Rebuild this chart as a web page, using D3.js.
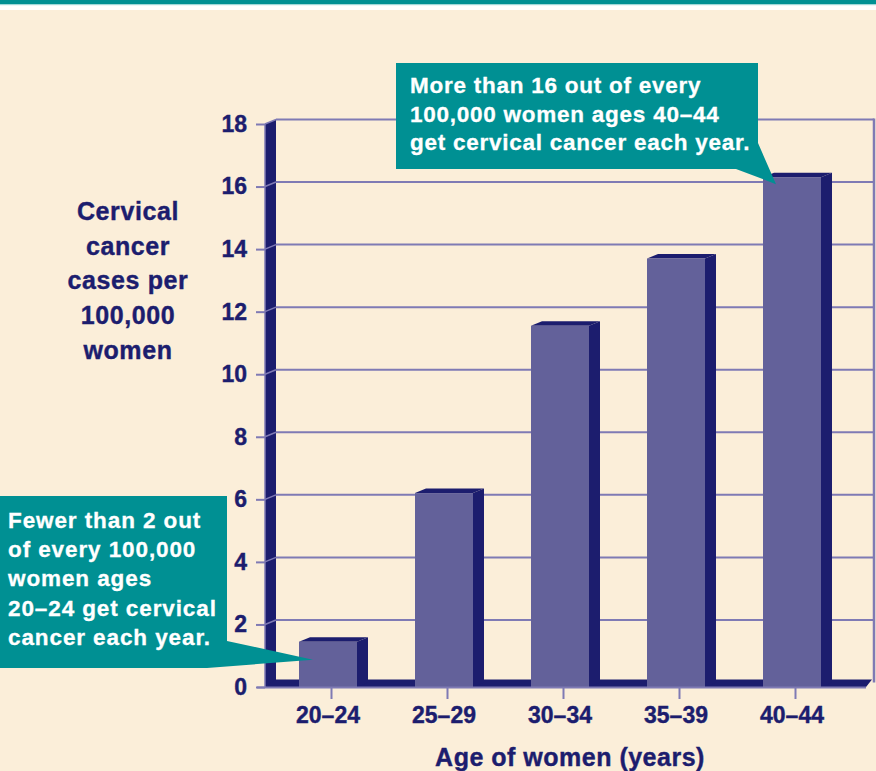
<!DOCTYPE html>
<html>
<head>
<meta charset="utf-8">
<script src="https://d3js.org/d3.v7.min.js"></script>
<style>
  body { margin: 0; background: #fbeed9; }
  svg { display: block; }
  text { font-family: "Liberation Sans", Arial, Helvetica, sans-serif; font-weight: bold; }
</style>
</head>
<body>
<svg class="chart"></svg>
<script>

// data
var ages = ["20–24", "25–29", "30–34", "35–39", "40–44"];
var rates = [1.45, 6.2, 11.55, 13.7, 16.3];
var yTicks = [0, 2, 4, 6, 8, 10, 12, 14, 16, 18];
var yTitle = ["Cervical", "cancer", "cases per", "100,000", "women"];
var xTitle = "Age of women (years)";
var noteHigh = ["More than 16 out of every", "100,000 women ages 40–44", "get cervical cancer each year."];
var noteLow = ["Fewer than 2 out", "of every 100,000", "women ages", "20–24 get cervical", "cancer each year."];

var W = 876, H = 771;
var navy = "#1c1d6e", barFill = "#63619a", grid = "#7f7ab4", teal = "#009093";

// 3d offsets
var dx = 11, dy = 4.5;
var wallLeft = 265, wallRight = 874;

var y = d3.scaleLinear()
    .domain([0, 18])
    .range([687, 124]);

var x = d3.scaleBand()
    .domain(ages)
    .range([270, 850])
    .paddingInner(0.5)
    .paddingOuter(0.25);

var chart = d3.select('.chart')
    .attr('width', W)
    .attr('height', H);

chart.append('rect').attr('width', W).attr('height', H).attr('fill', '#fbeed9');

// top band
chart.append('rect').attr('width', W).attr('height', 10).attr('fill', '#ffffff');
chart.append('rect').attr('width', W).attr('height', 4).attr('fill', teal);
chart.append('rect').attr('y', 4).attr('width', W).attr('height', 1.2).attr('fill', '#9fd8d8');

var base = y(0);

// back wall gridlines
chart.append('g').selectAll('line')
    .data(yTicks.slice(1))
    .enter().append('line')
    .attr('x1', wallLeft + dx).attr('x2', wallRight)
    .attr('y1', function (d) { return y(d) - dy; })
    .attr('y2', function (d) { return y(d) - dy; })
    .attr('stroke', grid).attr('stroke-width', 2);

// right edge of back wall
chart.append('line')
    .attr('x1', wallRight).attr('x2', wallRight)
    .attr('y1', y(18) - dy - 1).attr('y2', base - dy)
    .attr('stroke', grid).attr('stroke-width', 2.5);

// left wall
chart.append('path')
    .attr('d', 'M' + wallLeft + ',' + y(18) + 'L' + (wallLeft + dx) + ',' + (y(18) - dy) +
          'L' + (wallLeft + dx) + ',' + (base - dy) + 'L' + wallLeft + ',' + base + 'Z')
    .attr('fill', navy);

// floor
chart.append('path')
    .attr('d', 'M' + wallLeft + ',' + base + 'L' + (wallLeft + dx) + ',' + (base - dy - 3) +
          'L' + (wallRight - 2) + ',' + (base - dy - 3) + 'L' + (wallRight - 8) + ',' + base + 'Z')
    .attr('fill', navy);

// y axis: ticks + slanted links across the wall
var yAxis = d3.axisLeft(y).tickValues(yTicks).tickSize(9).tickPadding(9);
var gy = chart.append('g')
    .attr('transform', 'translate(' + wallLeft + ',0)')
    .call(yAxis);
gy.select('.domain').attr('stroke', grid).attr('stroke-width', 1.5)
    .attr('d', 'M0,' + y(18) + 'V' + base);
gy.selectAll('.tick line').attr('stroke', grid).attr('stroke-width', 2);
gy.selectAll('.tick text')
    .attr('fill', navy)
    .attr('stroke', navy).attr('stroke-width', 0.4)
    .style('font-size', '23px');

chart.append('g').selectAll('line')
    .data(yTicks.slice(1))
    .enter().append('line')
    .attr('x1', wallLeft).attr('x2', wallLeft + dx)
    .attr('y1', function (d) { return y(d); })
    .attr('y2', function (d) { return y(d) - dy; })
    .attr('stroke', grid).attr('stroke-width', 1.5);

// bars
var bw = x.bandwidth();
var bars = chart.append('g').selectAll('g')
    .data(ages)
    .enter().append('g');

bars.append('path')
    .attr('d', function (d, i) {
        var x0 = x(d) + bw, t = y(rates[i]);
        return 'M' + x0 + ',' + t + 'L' + (x0 + dx) + ',' + (t - dy) +
               'L' + (x0 + dx) + ',' + (base - dy) + 'L' + x0 + ',' + base + 'Z';
    })
    .attr('fill', navy);

bars.append('path')
    .attr('d', function (d, i) {
        var x0 = x(d), t = y(rates[i]);
        return 'M' + x0 + ',' + t + 'L' + (x0 + dx) + ',' + (t - dy) +
               'L' + (x0 + bw + dx) + ',' + (t - dy) + 'L' + (x0 + bw) + ',' + t + 'Z';
    })
    .attr('fill', navy);

bars.append('rect')
    .attr('x', function (d) { return x(d); })
    .attr('y', function (d, i) { return y(rates[i]); })
    .attr('width', bw)
    .attr('height', function (d, i) { return base - y(rates[i]); })
    .attr('fill', barFill);

// front base line and x ticks
chart.append('line')
    .attr('x1', wallLeft - 8).attr('x2', wallRight - 8)
    .attr('y1', base + 0.5).attr('y2', base + 0.5)
    .attr('stroke', grid).attr('stroke-width', 2);

var xAxis = d3.axisBottom(x).tickSize(12).tickPadding(8);
var gx = chart.append('g')
    .attr('transform', 'translate(0,' + base + ')')
    .call(xAxis);
gx.select('.domain').remove();
gx.selectAll('.tick line')
    .attr('transform', 'translate(3.5,0)')
    .attr('stroke', grid).attr('stroke-width', 2);
gx.selectAll('.tick text')
    .attr('fill', navy)
    .attr('stroke', navy).attr('stroke-width', 0.4)
    .style('font-size', '23px');

// axis titles
chart.append('text')
    .attr('x', 570).attr('y', 766)
    .attr('text-anchor', 'middle')
    .attr('fill', navy)
    .attr('stroke', navy).attr('stroke-width', 0.4)
    .style('font-size', '25px')
    .style('letter-spacing', '0.5px')
    .text(xTitle);

chart.append('g').selectAll('text')
    .data(yTitle)
    .enter().append('text')
    .attr('x', 128)
    .attr('y', function (d, i) { return 220 + i * 34.7; })
    .attr('text-anchor', 'middle')
    .attr('fill', navy)
    .attr('stroke', navy).attr('stroke-width', 0.4)
    .style('font-size', '25px')
    .style('letter-spacing', '0.6px')
    .text(function (d) { return d; });

// callouts
var tip40 = [x("40–44") + 13, y(rates[4]) - 8 + 15];
chart.append('path')
    .attr('d', 'M396,63H758V143L' + tip40[0] + ',' + tip40[1] + 'L736,169H396Z')
    .attr('fill', teal);

chart.append('g').selectAll('text')
    .data(noteHigh)
    .enter().append('text')
    .attr('x', 410)
    .attr('y', function (d, i) { return 93 + i * 28.5; })
    .attr('fill', '#ffffff')
    .attr('stroke', '#ffffff').attr('stroke-width', 0.3)
    .style('font-size', '22.5px')
    .style('letter-spacing', '0.75px')
    .text(function (d) { return d; });

var tip20 = [x("20–24") + 14, y(rates[0]) + 18];
chart.append('path')
    .attr('d', 'M0,496H227V641L' + tip20[0] + ',' + tip20[1] + 'L207,668H0Z')
    .attr('fill', teal);

chart.append('g').selectAll('text')
    .data(noteLow)
    .enter().append('text')
    .attr('x', 8)
    .attr('y', function (d, i) { return 528 + i * 29.2; })
    .attr('fill', '#ffffff')
    .attr('stroke', '#ffffff').attr('stroke-width', 0.3)
    .style('font-size', '22.5px')
    .style('letter-spacing', '0.9px')
    .text(function (d) { return d; });

</script>
</body>
</html>
